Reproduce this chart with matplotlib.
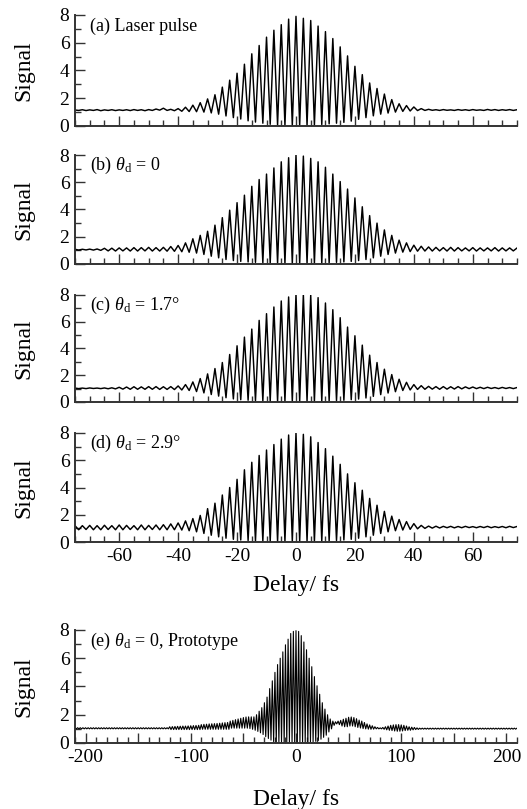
import numpy as np
import matplotlib
matplotlib.use('Agg')
import matplotlib.pyplot as plt
from matplotlib.ticker import MultipleLocator, FuncFormatter

plt.rcParams['font.family'] = ['Liberation Serif', 'DejaVu Serif']
plt.rcParams['mathtext.fontset'] = 'custom'
plt.rcParams['mathtext.rm'] = 'Liberation Serif'
plt.rcParams['mathtext.it'] = 'Liberation Serif:italic'
plt.rcParams['axes.unicode_minus'] = False

# fringe spacing of the scans (fs); peaks sit at k*step, troughs half way between
fringe_step = 2.5

# (a) laser pulse, peaks k=-30..30, troughs k=-30..29 (+0.5)
peaks_a = [1.15, 1.17, 1.16, 1.18, 1.16, 1.17, 1.16, 1.17, 1.18, 1.17, 1.18, 1.22, 1.28, 1.2,
           1.25, 1.35, 1.5, 1.68, 1.95, 2.25, 2.8, 3.3, 3.8, 4.45, 5.2, 5.8, 6.4, 6.9, 7.3, 7.7,
           7.9,
           7.76, 7.6, 7.2, 6.8, 6.3, 5.7, 5.05, 4.3, 3.7, 3.1, 2.7, 2.3, 1.9, 1.6, 1.47, 1.37,
           1.25, 1.2, 1.17, 1.18, 1.16, 1.18, 1.17, 1.18, 1.16, 1.19, 1.18, 1.17, 1.18, 1.17]
troughs_a = [1.12, 1.11, 1.12, 1.1, 1.12, 1.11, 1.12, 1.11, 1.12, 1.1, 1.12, 1.14, 1.12, 1.1,
             1.06, 1.04, 1.03, 1.0, 0.94, 0.85, 0.72, 0.6, 0.5, 0.37, 0.28, 0.2, 0.12, 0.07,
             0.04, 0.03,
             0.03, 0.04, 0.06, 0.1, 0.15, 0.2, 0.26, 0.35, 0.48, 0.6, 0.73, 0.85, 0.93, 1.0, 1.05,
             1.08, 1.11, 1.12, 1.13, 1.12, 1.13, 1.12, 1.13, 1.12, 1.13, 1.12, 1.13, 1.12, 1.13,
             1.12]

# (b) theta_d = 0
peaks_b = [1.08, 1.08, 1.09, 1.1, 1.15, 1.16, 1.18, 1.18, 1.2, 1.2, 1.22, 1.2, 1.22, 1.28,
           1.36, 1.55, 1.85, 2.1, 2.4, 2.85, 3.4, 3.95, 4.5, 5.05, 5.7, 6.2, 6.6, 7.05, 7.5, 7.8,
           8.0,
           7.92, 7.75, 7.5, 7.1, 6.6, 6.05, 5.5, 4.85, 4.2, 3.55, 3.0, 2.5, 2.1, 1.75, 1.55, 1.38,
           1.3, 1.25, 1.22, 1.2, 1.22, 1.2, 1.18, 1.2, 1.18, 1.18, 1.2, 1.18, 1.18, 1.17]
troughs_b = [1.02, 1.03, 1.02, 1.0, 0.96, 0.95, 0.96, 0.95, 0.95, 0.96, 0.95, 0.95, 0.94, 0.93,
             0.9, 0.86, 0.8, 0.7, 0.57, 0.45, 0.33, 0.25, 0.19, 0.15, 0.12, 0.09, 0.07, 0.05,
             0.04, 0.03,
             0.03, 0.04, 0.05, 0.07, 0.09, 0.12, 0.15, 0.19, 0.25, 0.33, 0.45, 0.57, 0.7, 0.8,
             0.87, 0.91, 0.94, 0.95, 0.95, 0.96, 0.95, 0.95, 0.96, 0.96, 0.95, 0.96, 0.96, 0.95,
             0.96, 0.96]

# (c) theta_d = 1.7 deg
peaks_c = [1.04, 1.04, 1.05, 1.04, 1.05, 1.06, 1.1, 1.12, 1.14, 1.13, 1.15, 1.15, 1.14, 1.15,
           1.2, 1.3, 1.5, 1.75, 2.1, 2.5, 2.95, 3.55, 4.2, 4.85, 5.45, 6.1, 6.6, 7.1, 7.55, 7.85,
           8.05,
           8.05, 8.0, 7.8, 7.4, 6.9, 6.3, 5.6, 4.95, 4.25, 3.5, 2.95, 2.45, 2.05, 1.7, 1.47, 1.3,
           1.22, 1.17, 1.15, 1.15, 1.14, 1.15, 1.13, 1.12, 1.1, 1.1, 1.08, 1.09, 1.08, 1.08]
troughs_c = [1.0, 1.0, 1.01, 1.0, 0.99, 0.98, 0.96, 0.95, 0.95, 0.95, 0.95, 0.94, 0.94, 0.93,
             0.9, 0.86, 0.78, 0.68, 0.56, 0.44, 0.32, 0.23, 0.17, 0.13, 0.1, 0.08, 0.06, 0.05,
             0.04, 0.04,
             0.04, 0.04, 0.05, 0.06, 0.08, 0.1, 0.13, 0.17, 0.22, 0.3, 0.42, 0.55, 0.67, 0.77,
             0.86, 0.9, 0.94, 0.95, 0.96, 0.95, 0.96, 0.97, 0.98, 1.0, 1.0, 1.0, 1.01, 1.0, 1.01,
             1.0]

# (d) theta_d = 2.9 deg
peaks_d = [1.2, 1.2, 1.22, 1.2, 1.23, 1.2, 1.25, 1.22, 1.2, 1.25, 1.22, 1.25, 1.27, 1.33, 1.4,
           1.55, 1.72, 1.95, 2.45, 2.85, 3.45, 4.0, 4.6, 5.3, 5.85, 6.35, 6.75, 7.15, 7.55, 7.85,
           8.0,
           7.9, 7.72, 7.3, 6.85, 6.3, 5.7, 5.0, 4.35, 3.8, 3.2, 2.7, 2.25, 1.9, 1.65, 1.5, 1.35,
           1.22, 1.17, 1.16, 1.15, 1.15, 1.14, 1.15, 1.13, 1.14, 1.15, 1.13, 1.14, 1.15, 1.14]
troughs_d = [0.9, 0.92, 0.9, 0.9, 0.92, 0.9, 0.9, 0.92, 0.9, 0.9, 0.92, 0.9, 0.9, 0.9,
             0.88, 0.83, 0.75, 0.63, 0.5, 0.38, 0.28, 0.2, 0.15, 0.11, 0.08, 0.06, 0.05, 0.04,
             0.04, 0.04,
             0.04, 0.04, 0.05, 0.06, 0.08, 0.11, 0.15, 0.2, 0.28, 0.38, 0.5, 0.63, 0.75, 0.83,
             0.88, 0.93, 0.97, 1.0, 1.02, 1.03, 1.05, 1.04, 1.05, 1.06, 1.05, 1.06, 1.05, 1.06,
             1.05, 1.06]

# (e) prototype, peaks k=-84..84, troughs k=-84..83 (+0.5)
peaks_e = ([1.08] * 36
           + [1.15, 1.16, 1.17, 1.18, 1.19, 1.2, 1.2, 1.21, 1.22, 1.23, 1.24, 1.25]
           + [1.3, 1.32, 1.33, 1.35, 1.36, 1.37, 1.38, 1.4, 1.42, 1.44, 1.45]
           + [1.55, 1.6, 1.65, 1.7, 1.75, 1.8, 1.84]
           + [1.85, 1.85, 1.85, 2.0, 2.25, 2.5, 2.85, 3.25, 3.85, 4.4, 5.0, 5.55, 6.0, 6.45,
              6.95, 7.35, 7.75, 7.9, 7.95, 7.9, 7.6, 7.15, 6.6, 6.0, 5.4, 4.7, 4.05, 3.45, 2.85,
              2.4, 2.0, 1.7, 1.55, 1.5, 1.55, 1.6, 1.68, 1.75, 1.82, 1.84, 1.8, 1.72, 1.62, 1.55,
              1.45, 1.35, 1.28, 1.22, 1.15, 1.1, 1.07, 1.1, 1.15, 1.2, 1.25, 1.28, 1.3, 1.3,
              1.28, 1.25, 1.2, 1.15, 1.12, 1.1, 1.07]
           + [1.05] * 38)
troughs_e = ([1.0] * 36 + [0.95] * 12 + [0.97] * 11 + [1.05] * 7
             + [1.02, 0.97, 0.9, 0.82, 0.72, 0.6, 0.45, 0.32, 0.2, 0.1]
             + [0.04, 0.03, 0.02, 0.02, 0.02, 0.02, 0.02, 0.02]
             + [0.02, 0.02, 0.02, 0.02, 0.03, 0.05, 0.08, 0.12, 0.18, 0.27, 0.4, 0.55, 0.78,
                1.0, 1.25, 1.35, 1.3, 1.2, 1.15, 1.15, 1.2, 1.2, 1.15, 1.1, 1.06, 1.02, 1.0,
                0.98, 0.97, 0.98, 1.0, 1.0, 1.0, 0.97, 0.93, 0.9, 0.88, 0.85, 0.83, 0.83, 0.85,
                0.88, 0.9, 0.9, 0.93, 0.95, 0.96]
             + [0.98] * 37)

labels = ['(a) Laser pulse',
          r'(b) $\theta_\mathrm{d}$ = 0',
          r'(c) $\theta_\mathrm{d}$ = 1.7°',
          r'(d) $\theta_\mathrm{d}$ = 2.9°',
          r'(e) $\theta_\mathrm{d}$ = 0, Prototype']


def fringe_trace(peaks, troughs, step):
    peaks = np.asarray(peaks)
    troughs = np.asarray(troughs)
    k0 = -(len(peaks) // 2)
    x = np.empty(len(peaks) + len(troughs))
    y = np.empty_like(x)
    x[0::2] = (np.arange(len(peaks)) + k0) * step
    y[0::2] = peaks
    x[1::2] = (np.arange(len(troughs)) + k0 + 0.5) * step
    y[1::2] = troughs
    return x, y


def style_axis(ax, xlim, major, minor, label_every):
    ax.set_xlim(*xlim)
    ax.set_ylim(0, 8)
    for s in ('top', 'right'):
        ax.spines[s].set_visible(False)
    for s in ('left', 'bottom'):
        ax.spines[s].set_linewidth(1.4)
        ax.spines[s].set_color('#333333')
    ax.xaxis.set_major_locator(MultipleLocator(major))
    ax.xaxis.set_minor_locator(MultipleLocator(minor))
    ax.yaxis.set_major_locator(MultipleLocator(2))
    ax.yaxis.set_minor_locator(MultipleLocator(1))
    ax.xaxis.set_major_formatter(FuncFormatter(
        lambda v, p: '%d' % round(v) if round(v) % label_every == 0 else ''))
    ax.tick_params(which='major', direction='in', length=7.5, width=1.0,
                   color='#333333', labelsize=14, pad=4)
    ax.tick_params(which='minor', direction='in', length=4.5, width=1.0,
                   color='#333333')
    ax.set_ylabel('Signal', fontsize=17)
    ax.yaxis.set_label_coords(-0.093, 0.5)


fig = plt.figure(figsize=(5.27, 8.09), dpi=100)
left, width = 0.1423, 0.8387
boxes = [(0.8443, 0.1372), (0.6737, 0.1347), (0.5031, 0.1323), (0.3300, 0.1348),
         (0.0816, 0.1397)]

series = [(peaks_a, troughs_a), (peaks_b, troughs_b), (peaks_c, troughs_c),
          (peaks_d, troughs_d), (peaks_e, troughs_e)]

for i, ((pk, tr), (bottom, h)) in enumerate(zip(series, boxes)):
    ax = fig.add_axes([left, bottom, width, h])
    x, y = fringe_trace(pk, tr, fringe_step)
    if i < 4:
        ax.plot(x, y, color='black', lw=1.05)
        style_axis(ax, (-75, 75), 20, 5, 20)
        if i < 3:
            ax.tick_params(axis='x', labelbottom=False)
        else:
            ax.set_xlabel('Delay/ fs', fontsize=17)
            ax.xaxis.set_label_coords(0.5, -0.30)
    else:
        ax.plot(x, y, color='black', lw=0.8)
        style_axis(ax, (-210, 210), 50, 10, 100)
        ax.set_xlabel('Delay/ fs', fontsize=17)
        ax.xaxis.set_label_coords(0.5, -0.41)
    ax.text(0.035, 0.9, labels[i], transform=ax.transAxes, fontsize=13,
            ha='left', va='center')

fig.savefig('out.png', dpi=100)
